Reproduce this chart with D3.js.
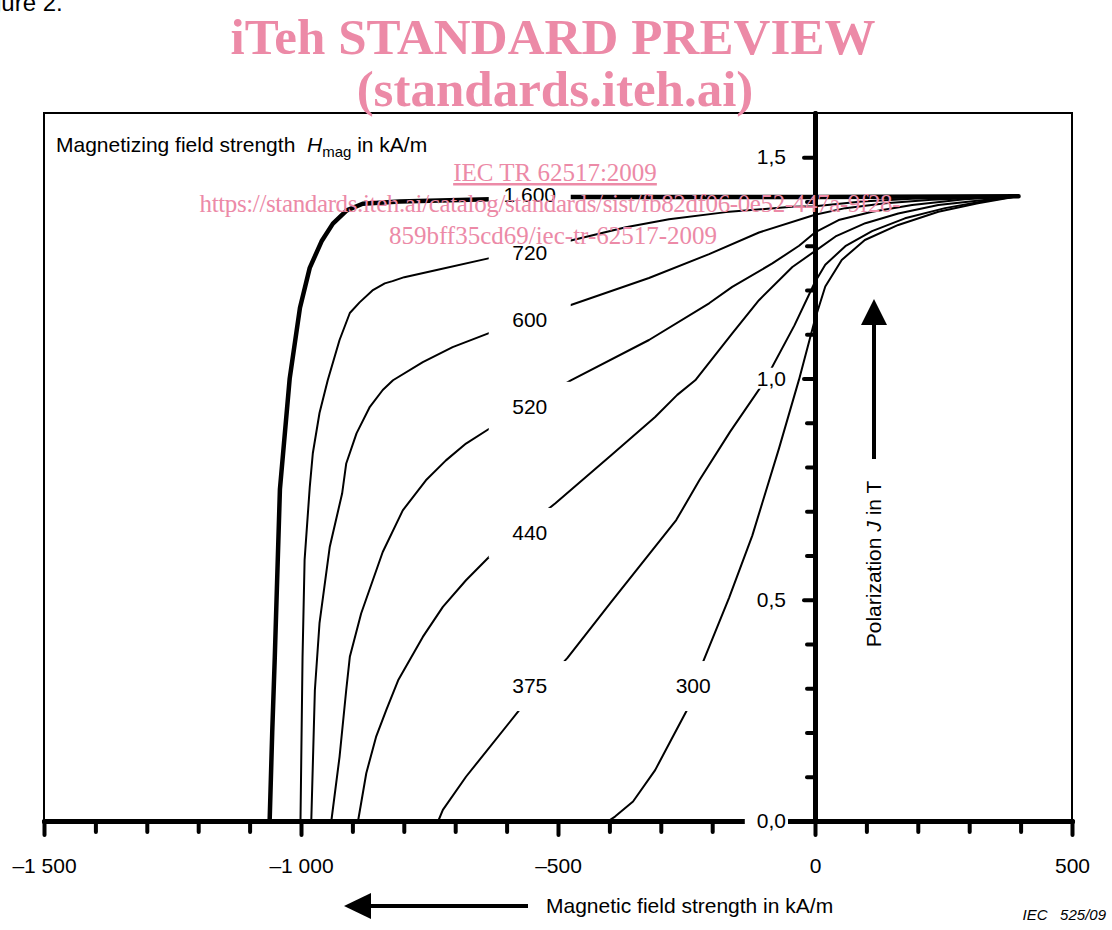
<!DOCTYPE html>
<html>
<head>
<meta charset="utf-8">
<script src="https://cdn.jsdelivr.net/npm/d3@7"></script>
<style>
  body { margin: 0; background: #fff; }
  svg { display: block; }
  text { font-family: 'Liberation Sans', Arial, sans-serif; }
</style>
</head>
<body>
<div id="chart"></div>
<script>
// demagnetization curves, [H in kA/m, J in T], one per magnetizing field
const curve1600 = [[-1061, 0], [-1056, 0.2], [-1051, 0.37], [-1041, 0.75], [-1022, 1.0], [-1002, 1.16], [-983, 1.25],
  [-960, 1.31], [-938, 1.35], [-911, 1.38], [-880, 1.395], [-808, 1.4], [-633, 1.405], [-475, 1.41], [0, 1.41], [396, 1.412]];
const curve720 = [[-1001, 0], [-997, 0.37], [-993, 0.59], [-983, 0.754], [-977, 0.831], [-964, 0.922], [-948, 0.996],
  [-925, 1.087], [-905, 1.148], [-886, 1.172], [-861, 1.199], [-837, 1.215], [-822, 1.22], [-799, 1.229], [-736, 1.245],
  [-633, 1.272], [-475, 1.312], [-368, 1.342], [-284, 1.36], [-173, 1.376], [-45, 1.388], [0, 1.389], [91, 1.4],
  [189, 1.406], [396, 1.412]];
const curve600 = [[-980, 0], [-973, 0.296], [-964, 0.447], [-944, 0.62], [-920, 0.74], [-912, 0.808], [-892, 0.876],
  [-866, 0.936], [-841, 0.974], [-821, 0.996], [-763, 1.037], [-705, 1.071], [-633, 1.103], [-475, 1.166],
  [-323, 1.227], [-206, 1.281], [-109, 1.33], [0, 1.37], [59, 1.385], [137, 1.396], [227, 1.404], [396, 1.412]];
const curve520 = [[-941, 0], [-925, 0.145], [-912, 0.296], [-905, 0.371], [-883, 0.469], [-841, 0.608], [-802, 0.702],
  [-757, 0.77], [-718, 0.815], [-679, 0.853], [-633, 0.887], [-475, 0.996], [-323, 1.087], [-206, 1.17], [-161, 1.207],
  [-83, 1.26], [-31, 1.3], [0, 1.33], [46, 1.358], [111, 1.377], [189, 1.392], [291, 1.405], [396, 1.412]];
const curve440 = [[-889, 0], [-873, 0.108], [-854, 0.19], [-834, 0.251], [-811, 0.318], [-763, 0.416], [-724, 0.484],
  [-679, 0.544], [-627, 0.605], [-505, 0.718], [-396, 0.827], [-311, 0.913], [-268, 0.963], [-233, 0.996],
  [-161, 1.102], [-109, 1.177], [-44, 1.252], [0, 1.288], [40, 1.321], [98, 1.351], [162, 1.373], [240, 1.392], [396, 1.412]];
const curve375 = [[-733, 0], [-724, 0.025], [-679, 0.1], [-575, 0.251], [-482, 0.368], [-396, 0.496], [-270, 0.68],
  [-225, 0.77], [-165, 0.88], [-100, 0.99], [-40, 1.12], [0, 1.218], [20, 1.257], [59, 1.299], [111, 1.333],
  [175, 1.362], [253, 1.385], [330, 1.401], [396, 1.412]];
const curve300 = [[-402, 0], [-389, 0.01], [-354, 0.044], [-311, 0.115], [-280, 0.183], [-249, 0.251], [-219, 0.356],
  [-167, 0.505], [-122, 0.645], [-70, 0.842], [-31, 0.998], [0, 1.134], [20, 1.208], [52, 1.268], [97, 1.313],
  [162, 1.347], [240, 1.377], [317, 1.396], [396, 1.412]];

const curveNames = ['1 600', '720', '600', '520', '440', '375', '300'];
const xMajorTicks = [-1500, -1000, -500, 0, 500];
const xMinorTicks = [-1400, -1300, -1200, -1100, -900, -800, -700, -600, -400, -300, -200, -100, 100, 200, 300, 400];
const yMajorTicks = [0, 0.5, 1.0, 1.5];
const yMinorTicks = [0.1, 0.2, 0.3, 0.4, 0.6, 0.7, 0.8, 0.9, 1.1, 1.2, 1.3, 1.4];

const curves = [curve1600, curve720, curve600, curve520, curve440, curve375, curve300];

const width = 1112;
const height = 930;

const svg = d3.select('#chart')
  .append('svg')
  .attr('width', width)
  .attr('height', height);

const x = d3.scaleLinear().domain([-1500, 500]).range([44, 1072]);
const y = d3.scaleLinear().domain([0, 1.6]).range([821, 113]);

const loc = d3.formatLocale({ decimal: ',', thousands: ' ', grouping: [3], currency: ['', ''], minus: '\u2013' });

// caption left over from the page above
svg.append('text')
  .attr('x', -32)
  .attr('y', 11)
  .style('font-size', '24px')
  .text('Figure 2.');

// frame
svg.append('rect')
  .attr('x', x(-1500))
  .attr('y', y(1.6))
  .attr('width', x(500) - x(-1500))
  .attr('height', y(0) - y(1.6))
  .attr('fill', 'none')
  .attr('stroke', '#000')
  .attr('stroke-width', 2);

const line = d3.line()
  .x(d => x(d[0]))
  .y(d => y(d[1]));

svg.append('g')
  .selectAll('path')
  .data(curves)
  .enter()
  .append('path')
  .attr('d', line)
  .attr('fill', 'none')
  .attr('stroke', '#000')
  .attr('stroke-width', (d, i) => i === 0 ? 4.5 : 2)
  .attr('stroke-linejoin', 'round')
  .attr('stroke-linecap', 'round');

// curve labels sit on white boxes that cut the lines
const labelAt = [[-555, 1.415], [-555, 1.284], [-555, 1.132], [-555, 0.936], [-555, 0.651], [-555, 0.305], [-237, 0.305]];
const labels = svg.append('g')
  .selectAll('g')
  .data(curveNames)
  .enter()
  .append('g')
  .attr('transform', (d, i) => `translate(${x(labelAt[i][0])},${y(labelAt[i][1])})`);
labels.append('rect')
  .attr('x', -41).attr('y', -25).attr('width', 82).attr('height', 50)
  .attr('fill', '#fff');
labels.append('text')
  .attr('text-anchor', 'middle')
  .attr('dy', '0.35em')
  .style('font-size', '21px')
  .text(d => d);

function styleAxis(g) {
  g.select('.domain').attr('stroke-width', 5).attr('stroke-linecap', 'round');
  g.selectAll('.tick line').attr('stroke-width', 4).attr('stroke-linecap', 'round');
  g.attr('font-family', null).attr('font-size', null);
  g.selectAll('text').style('font-size', '21px').attr('fill', '#000');
}

// x axis
svg.append('g')
  .attr('transform', `translate(0,${y(0)})`)
  .call(d3.axisBottom(x).tickValues(xMinorTicks).tickSize(11).tickSizeOuter(0).tickFormat(''))
  .call(styleAxis);
svg.append('g')
  .attr('transform', `translate(0,${y(0)})`)
  .call(d3.axisBottom(x).tickValues(xMajorTicks).tickSize(14).tickSizeOuter(0).tickPadding(23).tickFormat(loc.format(',d')))
  .call(styleAxis);

// y axis on H = 0
svg.append('g')
  .attr('transform', `translate(${x(0)},0)`)
  .call(d3.axisLeft(y).tickValues(yMinorTicks).tickSize(8).tickSizeOuter(0).tickFormat(''))
  .call(styleAxis);
const yAxisG = svg.append('g')
  .attr('transform', `translate(${x(0)},0)`)
  .call(d3.axisLeft(y).tickValues(yMajorTicks).tickSize(11).tickSizeOuter(0).tickPadding(18).tickFormat(loc.format('.1f')))
  .call(styleAxis);

yAxisG.selectAll('.tick').each(function(d) {
  const b = d3.select(this).select('text').node().getBBox();
  const low = d === 0 ? 8 : 0;
  d3.select(this).insert('rect', 'text')
    .attr('x', b.x - 12)
    .attr('y', b.y + 1)
    .attr('width', b.width + 14)
    .attr('height', b.height - 2 + low)
    .attr('fill', '#fff');
});

// field strength title inside the frame
const hTitle = svg.append('text')
  .attr('x', 56)
  .attr('y', 152)
  .style('font-size', '21px');
hTitle.append('tspan').text('Magnetizing field strength\u00a0\u00a0');
hTitle.append('tspan').style('font-style', 'italic').text('H');
hTitle.append('tspan').style('font-size', '15px').attr('dy', 5).text('mag');
hTitle.append('tspan').attr('dy', -5).text(' in kA/m');

// axis titles with arrows
svg.append('line')
  .attr('x1', 528).attr('y1', 906).attr('x2', 368).attr('y2', 906)
  .attr('stroke', '#000').attr('stroke-width', 4);
svg.append('path')
  .attr('d', 'M344,906 L371,893 L371,919 Z')
  .attr('fill', '#000');
svg.append('text')
  .attr('x', 546)
  .attr('y', 913)
  .style('font-size', '21px')
  .text('Magnetic field strength in kA/m');

svg.append('line')
  .attr('x1', 874).attr('y1', 459).attr('x2', 874).attr('y2', 322)
  .attr('stroke', '#000').attr('stroke-width', 4);
svg.append('path')
  .attr('d', 'M874,299 L861,325 L887,325 Z')
  .attr('fill', '#000');
const jTitle = svg.append('text')
  .attr('transform', 'translate(874,564) rotate(-90)')
  .attr('text-anchor', 'middle')
  .attr('dy', '0.35em')
  .style('font-size', '21px');
jTitle.append('tspan').text('Polarization ');
jTitle.append('tspan').style('font-style', 'italic').text('J');
jTitle.append('tspan').text(' in T');

svg.append('text')
  .attr('x', 1106)
  .attr('y', 920)
  .attr('text-anchor', 'end')
  .style('font-size', '15px')
  .style('font-style', 'italic')
  .style('white-space', 'pre')
  .text('IEC   525/09');

// preview watermark over the figure
const wm = svg.append('g')
  .attr('fill', '#ec8aa7')
  .attr('text-anchor', 'middle')
  .style('font-family', "'Liberation Serif', 'Times New Roman', serif");
wm.append('text')
  .attr('x', 553).attr('y', 54)
  .attr('textLength', 645)
  .style('font-family', "'Liberation Serif', serif")
  .style('font-size', '51px').style('font-weight', 'bold')
  .text('iTeh STANDARD PREVIEW');
wm.append('text')
  .attr('x', 555).attr('y', 106)
  .style('font-family', "'Liberation Serif', serif")
  .style('font-size', '51px').style('font-weight', 'bold')
  .text('(standards.iteh.ai)');
wm.append('text')
  .attr('x', 555).attr('y', 181)
  .style('font-family', "'Liberation Serif', serif")
  .style('font-size', '25px')
  .style('text-decoration', 'underline')
  .text('IEC TR 62517:2009');
wm.append('text')
  .attr('x', 550).attr('y', 212)
  .attr('textLength', 701)
  .style('font-family', "'Liberation Serif', serif")
  .style('font-size', '25px')
  .text('https://standards.iteh.ai/catalog/standards/sist/fb82df06-0e52-447a-9f28-');
wm.append('text')
  .attr('x', 553).attr('y', 244)
  .style('font-family', "'Liberation Serif', serif")
  .style('font-size', '25px')
  .text('859bff35cd69/iec-tr-62517-2009');
</script>
</body>
</html>
